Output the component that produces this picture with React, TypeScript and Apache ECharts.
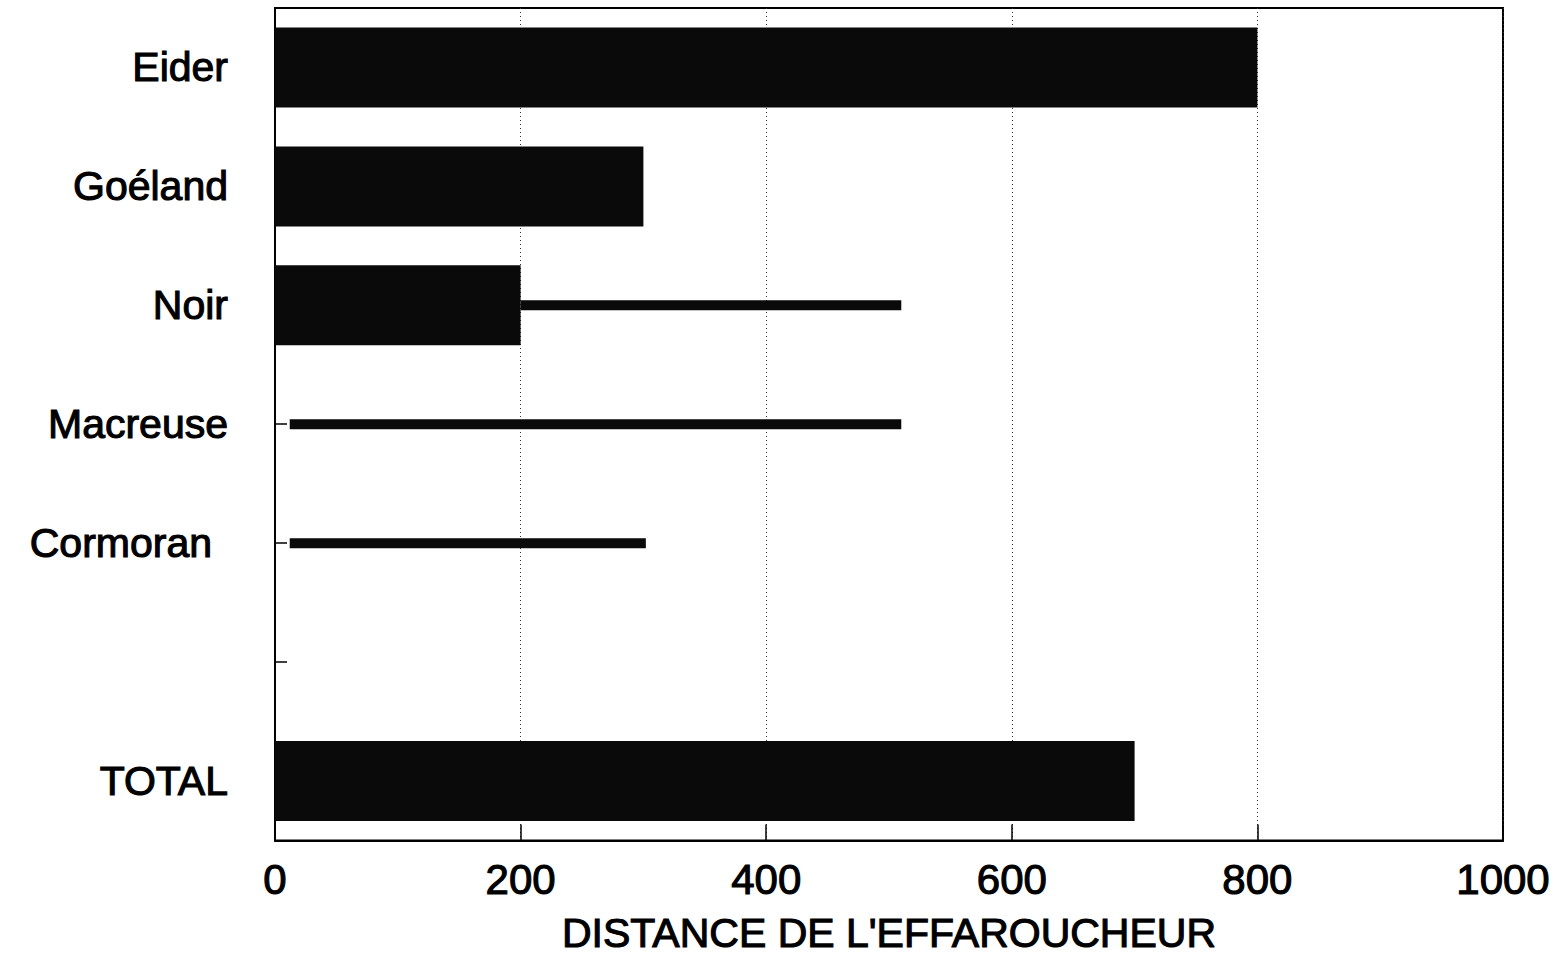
import React, { useEffect, useRef } from "react";
import * as echarts from "echarts";

const categories = ["Eider", "Goéland", "Noir", "Macreuse", "Cormoran", "", "TOTAL"];
const meanDistance = [800, 300, 200, null, null, null, 700];
const rangeStart = [null, null, 200, 12, 12, null, null];
const rangeEnd = [null, null, 510, 510, 302, null, null];
const xTicks = { min: 0, max: 1000, interval: 200 };
const axisTitle = "DISTANCE DE L'EFFAROUCHEUR";

const FONT = "'Liberation Sans', Arial, sans-serif";

export default function App() {
  const ref = useRef<HTMLDivElement>(null);
  useEffect(() => {
    if (!ref.current) return;
    const chart = echarts.init(ref.current, null, { renderer: "svg" });
    const rangeLen = rangeEnd.map((e, i) =>
      e == null || rangeStart[i] == null ? null : (e as number) - (rangeStart[i] as number)
    );
    const yCats = categories.map((c) =>
      c === "Cormoran" ? { value: c, textStyle: { padding: [0, 16, 0, 0] } } : c
    );
    const txt = { fontFamily: FONT, fontWeight: "normal", color: "#000", textBorderColor: "#000", textBorderWidth: 1.1 };
    chart.setOption({
      animation: false,
      backgroundColor: "#ffffff",
      grid: {
        left: 275,
        right: 60,
        top: 8,
        bottom: 105,
        show: true,
        borderColor: "#000",
        borderWidth: 2,
        backgroundColor: "transparent",
        containLabel: false,
      },
      xAxis: {
        type: "value",
        min: xTicks.min,
        max: xTicks.max,
        interval: xTicks.interval,
        name: axisTitle,
        nameLocation: "middle",
        nameGap: 72,
        nameTextStyle: { ...txt, fontSize: 41 },
        axisLine: { show: true, lineStyle: { color: "#000", width: 2 } },
        axisTick: { show: true, inside: true, length: 16, lineStyle: { color: "#000", width: 1.5 } },
        axisLabel: {
          ...txt,
          fontSize: 42,
          margin: 18,
          formatter: (v: number) => String(v),
        },
        splitLine: { show: true, lineStyle: { color: "#333", width: 1, type: [1, 3] } },
      },
      yAxis: [
        {
          type: "category",
          data: yCats,
          inverse: true,
          axisLine: { show: true, lineStyle: { color: "#000", width: 2 } },
          axisTick: { show: true, inside: true, alignWithLabel: true, length: 12, lineStyle: { color: "#000", width: 1.5 } },
          axisLabel: { ...txt, fontSize: 41, margin: 47 },
          splitLine: { show: false },
        },
        {
          type: "category",
          data: categories,
          inverse: true,
          show: false,
          position: "left",
        },
      ],
      series: [
        {
          type: "bar",
          data: meanDistance,
          yAxisIndex: 0,
          barWidth: 80,
          itemStyle: { color: "#0a0a0a" },
          z: 3,
        },
        {
          type: "bar",
          data: rangeStart,
          yAxisIndex: 1,
          stack: "range",
          barWidth: 10,
          itemStyle: { color: "transparent" },
          silent: true,
          z: 4,
        },
        {
          type: "bar",
          data: rangeLen,
          yAxisIndex: 1,
          stack: "range",
          barWidth: 10,
          itemStyle: { color: "#0a0a0a" },
          z: 4,
        },
      ],
    });
    return () => chart.dispose();
  }, []);
  return (
    <div
      ref={ref}
      style={{ position: "fixed", left: 0, top: 0, width: 1563, height: 959, background: "#fff" }}
    />
  );
}
